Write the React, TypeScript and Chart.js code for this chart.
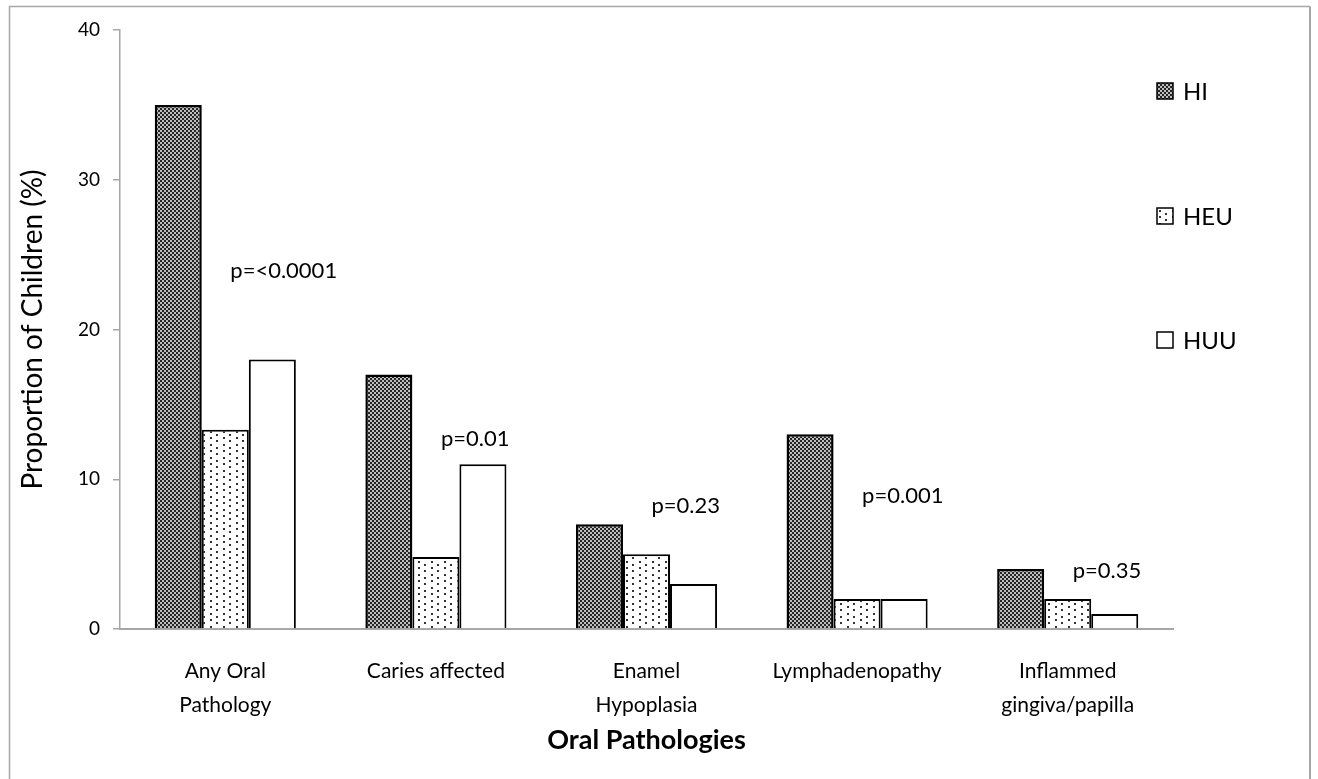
import React, { useEffect, useRef } from "react";
import { Chart, registerables } from "chart.js";

Chart.register(...registerables);

const categories: (string | string[])[] = [
  ["Any Oral", "Pathology"],
  "Caries affected",
  ["Enamel", "Hypoplasia"],
  "Lymphadenopathy",
  ["Inflammed", "gingiva/papilla"],
];
const seriesNames = ["HI", "HEU", "HUU"];
const hiValues = [35, 17, 7, 13, 4];
const heuValues = [13.3, 4.8, 5, 2, 2];
const huuValues = [18, 11, 3, 2, 1];
const pLabels = ["p=<0.0001", "p=0.01", "p=0.23", "p=0.001", "p=0.35"];
const pLabelY = [23.9, 12.7, 8.25, 8.9, 3.9];
const yTicks = [0, 10, 20, 30, 40];

const FONT = "Lato, 'Noto Sans', sans-serif";

function makeCheckerPattern(ctx: CanvasRenderingContext2D): CanvasPattern | string {
  const c = document.createElement("canvas");
  c.width = 4;
  c.height = 4;
  const g = c.getContext("2d")!;
  g.fillStyle = "#bdbdbd";
  g.fillRect(0, 0, 4, 4);
  g.fillStyle = "#262626";
  g.fillRect(0, 0, 2, 2);
  g.fillRect(2, 2, 2, 2);
  return ctx.createPattern(c, "repeat") || "#777";
}

function makeDotPattern(ctx: CanvasRenderingContext2D): CanvasPattern | string {
  const c = document.createElement("canvas");
  c.width = 13;
  c.height = 13;
  const g = c.getContext("2d")!;
  g.fillStyle = "#ffffff";
  g.fillRect(0, 0, 13, 13);
  g.fillStyle = "#333333";
  g.fillRect(2, 2, 2, 2);
  g.fillRect(8, 5, 2, 2);
  g.fillRect(2, 8, 2, 2);
  g.fillRect(8, 11, 2, 2);
  return ctx.createPattern(c, "repeat") || "#eee";
}

export default function App() {
  const canvasRef = useRef<HTMLCanvasElement | null>(null);

  useEffect(() => {
    document.body.style.margin = "0";
    const canvas = canvasRef.current;
    if (!canvas) return;
    const ctx = canvas.getContext("2d")!;
    const fills = [makeCheckerPattern(ctx), makeDotPattern(ctx), "#ffffff"];

    const overlay = {
      id: "overlay",
      afterDraw(chart: any) {
        const c = chart.ctx as CanvasRenderingContext2D;
        const xs = chart.scales.x;
        const ys = chart.scales.y;
        c.save();
        // frame
        c.strokeStyle = "#a6a6a6";
        c.lineWidth = 1.5;
        c.beginPath();
        c.moveTo(9.5, 800);
        c.lineTo(9.5, 6.5);
        c.lineTo(1310, 6.5);
        c.stroke();
        c.lineWidth = 2;
        c.beginPath();
        c.moveTo(1310, 6.5);
        c.lineTo(1310, 800);
        c.stroke();
        // p-value labels
        c.fillStyle = "#000";
        c.font = `22px ${FONT}`;
        c.textAlign = "left";
        c.textBaseline = "middle";
        pLabels.forEach((t, i) => {
          c.fillText(t, xs.getPixelForValue(i) + 5, ys.getPixelForValue(pLabelY[i]));
        });
        // legend
        const legendY = [91, 216, 340];
        chart.data.datasets.forEach((ds: any, i: number) => {
          const y = legendY[i];
          c.fillStyle = ds.backgroundColor;
          c.fillRect(1157, y - 8, 16, 16);
          c.strokeStyle = "#000";
          c.lineWidth = 1.5;
          c.strokeRect(1157, y - 8, 16, 16);
          c.fillStyle = "#000";
          c.font = `24px ${FONT}`;
          c.textAlign = "left";
          c.textBaseline = "middle";
          c.fillText(ds.label, 1183, y + 1);
        });
        c.restore();
      },
    };

    const chart = new Chart(canvas, {
      type: "bar",
      data: {
        labels: categories as any,
        datasets: [hiValues, heuValues, huuValues].map((vals, i) => ({
          label: seriesNames[i],
          data: vals,
          backgroundColor: fills[i] as any,
          borderColor: "#000000",
          borderWidth: i === 0 ? 2.5 : 2,
          categoryPercentage: 0.67,
          barPercentage: 1.0,
        })),
      },
      options: {
        animation: false,
        responsive: false,
        maintainAspectRatio: false,
        layout: { padding: { left: 0, right: 145, top: 30, bottom: 0 } },
        plugins: {
          legend: { display: false },
          tooltip: { enabled: false },
        },
        scales: {
          x: {
            grid: { display: false },
            border: { display: true, color: "#a6a6a6", width: 2 },
            ticks: {
              color: "#000",
              padding: 17,
              maxRotation: 0,
              autoSkip: false,
              font: { family: FONT, size: 21, lineHeight: "34px" as any },
            },
            title: {
              display: true,
              text: "Oral Pathologies",
              color: "#000",
              font: { family: FONT, size: 27, weight: "bold" },
              padding: { top: 0, bottom: 23 },
            },
            afterFit: (s: any) => {
              s.height = 150;
            },
          },
          y: {
            min: 0,
            max: 40,
            afterBuildTicks: (s: any) => {
              s.ticks = yTicks.map((v) => ({ value: v }));
            },
            grid: {
              display: true,
              drawOnChartArea: false,
              drawTicks: true,
              tickLength: 7,
              color: "#a6a6a6",
              lineWidth: 1.5,
            },
            border: { display: true, color: "#a6a6a6", width: 1.5 },
            ticks: {
              color: "#000",
              padding: 13,
              font: { family: FONT, size: 19 },
            },
            title: {
              display: true,
              text: "Proportion of Children (%)",
              color: "#000",
              font: { family: FONT, size: 28 },
              padding: { top: 16, bottom: 0 },
            },
            afterFit: (s: any) => {
              s.width = 120;
            },
          },
        },
      },
      plugins: [overlay],
    });
    return () => chart.destroy();
  }, []);

  return (
    <div style={{ width: 1318, height: 779, overflow: "hidden" }}>
      <canvas ref={canvasRef} width={1318} height={779} style={{ display: "block" }} />
    </div>
  );
}
